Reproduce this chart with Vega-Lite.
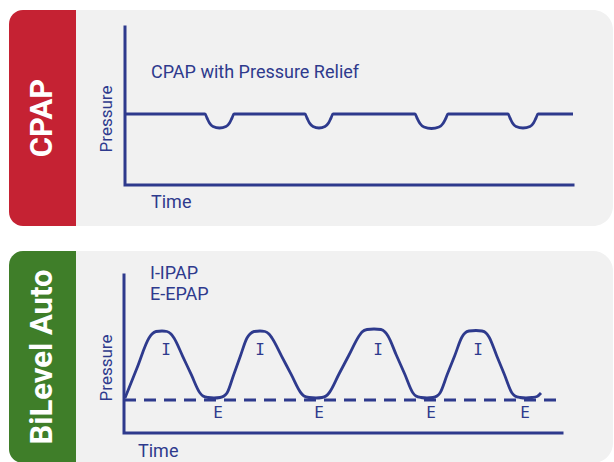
{
  "$schema": "https://vega.github.io/schema/vega-lite/v6.json",
  "width": 614,
  "height": 462,
  "padding": 0,
  "autosize": {"type": "none"},
  "background": "white",
  "config": {"view": {"stroke": null}, "font": "Roboto"},
  "datasets": {
    "panels": [
      {"panel": "CPAP", "x1": 9, "x2": 613, "y1": 10, "y2": 226},
      {"panel": "BiLevel", "x1": 9, "x2": 613, "y1": 251, "y2": 463}
    ],
    "tabs": [
      {"panel": "CPAP", "x1": 9, "x2": 76, "y1": 10, "y2": 226},
      {"panel": "BiLevel", "x1": 9, "x2": 76, "y1": 251, "y2": 463}
    ],
    "axes": [
      {"id": "top", "o": 1, "x": 125, "y": 27},
      {"id": "top", "o": 2, "x": 125, "y": 185},
      {"id": "top", "o": 3, "x": 573, "y": 185},
      {"id": "bottom", "o": 1, "x": 124, "y": 275},
      {"id": "bottom", "o": 2, "x": 124, "y": 433},
      {"id": "bottom", "o": 3, "x": 562, "y": 433}
    ],
    "cpap": [
      {"x": 125, "y": 114}, {"x": 205, "y": 114}, {"x": 207, "y": 118}, {"x": 209.5, "y": 123}, {"x": 213, "y": 126.5}, {"x": 219.5, "y": 128}, {"x": 226, "y": 126.5}, {"x": 229.5, "y": 123}, {"x": 232, "y": 118}, {"x": 234, "y": 114},
      {"x": 305, "y": 114}, {"x": 307, "y": 118}, {"x": 309.5, "y": 123}, {"x": 313, "y": 126.5}, {"x": 319, "y": 128}, {"x": 325, "y": 126.5}, {"x": 328.5, "y": 123}, {"x": 331, "y": 118}, {"x": 333, "y": 114},
      {"x": 415, "y": 114}, {"x": 417, "y": 118}, {"x": 420, "y": 123.5}, {"x": 424, "y": 127}, {"x": 431.5, "y": 128.5}, {"x": 439, "y": 127}, {"x": 443, "y": 123.5}, {"x": 446, "y": 118}, {"x": 448, "y": 114},
      {"x": 508, "y": 114}, {"x": 510, "y": 118}, {"x": 512.5, "y": 123}, {"x": 516, "y": 126.5}, {"x": 523, "y": 128}, {"x": 530, "y": 126.5}, {"x": 533.5, "y": 123}, {"x": 536, "y": 118}, {"x": 538, "y": 114},
      {"x": 573, "y": 114}
    ],
    "bilevel": [
      {"x": 125, "y": 398}, {"x": 137, "y": 368},
      {"x": 149, "y": 338}, {"x": 152, "y": 334}, {"x": 156, "y": 331.5}, {"x": 162, "y": 331}, {"x": 167, "y": 331.5}, {"x": 171, "y": 334}, {"x": 174, "y": 338},
      {"x": 182.7, "y": 356.3}, {"x": 191.3, "y": 374.7},
      {"x": 200, "y": 393}, {"x": 203, "y": 396}, {"x": 208, "y": 397.5}, {"x": 214, "y": 398}, {"x": 220, "y": 397.5}, {"x": 224, "y": 396}, {"x": 227, "y": 393},
      {"x": 233.7, "y": 374.7}, {"x": 240.3, "y": 356.3},
      {"x": 247, "y": 338}, {"x": 250, "y": 334}, {"x": 254, "y": 331.5}, {"x": 260, "y": 331}, {"x": 265, "y": 331.5}, {"x": 269, "y": 334}, {"x": 272, "y": 338},
      {"x": 281.7, "y": 356.3}, {"x": 291.3, "y": 374.7},
      {"x": 301, "y": 393}, {"x": 304, "y": 396}, {"x": 309, "y": 397.5}, {"x": 316, "y": 398}, {"x": 322, "y": 397.5}, {"x": 326, "y": 396}, {"x": 329, "y": 393},
      {"x": 339, "y": 374}, {"x": 349, "y": 355},
      {"x": 359, "y": 336}, {"x": 362, "y": 332}, {"x": 367, "y": 329.5}, {"x": 374, "y": 329}, {"x": 381, "y": 329.5}, {"x": 385, "y": 332}, {"x": 388, "y": 336},
      {"x": 396.3, "y": 355}, {"x": 404.7, "y": 374},
      {"x": 413, "y": 393}, {"x": 416, "y": 396}, {"x": 421, "y": 397.5}, {"x": 427, "y": 398}, {"x": 433, "y": 397.5}, {"x": 437, "y": 396}, {"x": 440, "y": 393},
      {"x": 447.3, "y": 374.3}, {"x": 454.7, "y": 355.7},
      {"x": 462, "y": 337}, {"x": 465, "y": 333}, {"x": 469, "y": 331}, {"x": 476, "y": 330.5}, {"x": 482, "y": 331}, {"x": 486, "y": 333}, {"x": 489, "y": 337},
      {"x": 496.7, "y": 355.7}, {"x": 504.3, "y": 374.3},
      {"x": 512, "y": 393}, {"x": 515, "y": 396}, {"x": 520, "y": 397.5}, {"x": 526, "y": 398}, {"x": 532, "y": 397.5}, {"x": 537, "y": 396.5}, {"x": 541, "y": 393}
    ],
    "epap": [{"x": 124, "y": 400}, {"x": 562, "y": 400}],
    "tabTitles": [
      {"txt": "CPAP", "x": 43, "y": 118},
      {"txt": "BiLevel Auto", "x": 43, "y": 357}
    ],
    "yTitles": [
      {"txt": "Pressure", "x": 107, "y": 119},
      {"txt": "Pressure", "x": 107, "y": 368}
    ],
    "labels": [
      {"txt": "CPAP with Pressure Relief", "x": 151, "y": 72.5},
      {"txt": "Time", "x": 151, "y": 203},
      {"txt": "I-IPAP", "x": 150, "y": 273.5},
      {"txt": "E-EPAP", "x": 150, "y": 295},
      {"txt": "Time", "x": 138, "y": 452}
    ],
    "phases": [
      {"txt": "I", "x": 166, "y": 350}, {"txt": "I", "x": 260, "y": 350}, {"txt": "I", "x": 378, "y": 350}, {"txt": "I", "x": 478, "y": 350},
      {"txt": "E", "x": 218, "y": 413}, {"txt": "E", "x": 319, "y": 413}, {"txt": "E", "x": 431, "y": 413}, {"txt": "E", "x": 525, "y": 413}
    ]
  },
  "encoding": {
    "x": {"field": "x", "type": "quantitative", "axis": null, "scale": {"domain": [0, 614], "nice": false, "zero": false}},
    "y": {"field": "y", "type": "quantitative", "axis": null, "scale": {"domain": [0, 462], "nice": false, "zero": false, "reverse": true}}
  },
  "layer": [
    {
      "data": {"name": "panels"},
      "mark": {"type": "rect", "fill": "#f1f1f1", "cornerRadius": 20},
      "encoding": {
        "x": {"field": "x1", "type": "quantitative", "axis": null, "scale": {"domain": [0, 614], "nice": false, "zero": false}},
        "x2": {"field": "x2"},
        "y": {"field": "y1", "type": "quantitative", "axis": null, "scale": {"domain": [0, 462], "nice": false, "zero": false, "reverse": true}},
        "y2": {"field": "y2"}
      }
    },
    {
      "data": {"name": "tabs"},
      "mark": {"type": "rect", "cornerRadiusTopLeft": 14, "cornerRadiusBottomLeft": 14},
      "encoding": {
        "x": {"field": "x1", "type": "quantitative", "axis": null, "scale": {"domain": [0, 614], "nice": false, "zero": false}},
        "x2": {"field": "x2"},
        "y": {"field": "y1", "type": "quantitative", "axis": null, "scale": {"domain": [0, 462], "nice": false, "zero": false, "reverse": true}},
        "y2": {"field": "y2"},
        "fill": {"field": "panel", "type": "nominal", "legend": null, "scale": {"domain": ["CPAP", "BiLevel"], "range": ["#c52233", "#3f7e29"]}}
      }
    },
    {
      "data": {"name": "axes"},
      "mark": {"type": "line", "color": "#2e3a8d", "strokeWidth": 3, "strokeCap": "square"},
      "encoding": {
        "detail": {"field": "id"},
        "order": {"field": "o", "type": "quantitative"}
      }
    },
    {
      "data": {"name": "epap"},
      "mark": {"type": "line", "color": "#2e3a8d", "strokeWidth": 2.8, "strokeDash": [12, 8]},
      "encoding": {}
    },
    {
      "data": {"name": "cpap"},
      "mark": {"type": "line", "color": "#2e3a8d", "strokeWidth": 2.8, "interpolate": "monotone"},
      "encoding": {}
    },
    {
      "data": {"name": "bilevel"},
      "mark": {"type": "line", "color": "#2e3a8d", "strokeWidth": 2.8, "interpolate": "monotone"},
      "encoding": {}
    },
    {
      "data": {"name": "tabTitles"},
      "mark": {"type": "text", "color": "white", "fontSize": 31, "fontWeight": "bold", "font": "Roboto", "angle": 270, "align": "center", "baseline": "middle"},
      "encoding": {"text": {"field": "txt"}}
    },
    {
      "data": {"name": "yTitles"},
      "mark": {"type": "text", "color": "#2e3a8d", "fontSize": 17, "font": "Roboto", "angle": 270, "align": "center", "baseline": "middle"},
      "encoding": {"text": {"field": "txt"}}
    },
    {
      "data": {"name": "labels"},
      "mark": {"type": "text", "color": "#2e3a8d", "fontSize": 18, "font": "Roboto", "align": "left", "baseline": "middle"},
      "encoding": {"text": {"field": "txt"}}
    },
    {
      "data": {"name": "phases"},
      "mark": {"type": "text", "color": "#2e3a8d", "fontSize": 16, "font": "DejaVu Sans Mono", "align": "center", "baseline": "middle"},
      "encoding": {"text": {"field": "txt"}}
    }
  ]
}
